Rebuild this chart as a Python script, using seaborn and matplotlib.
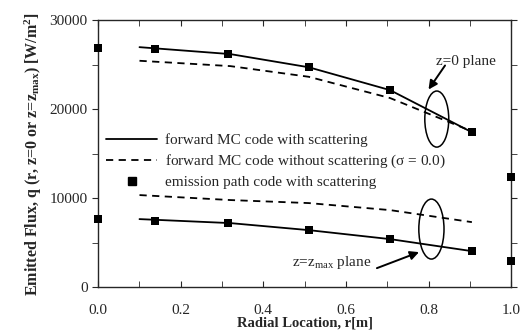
import numpy as np
import pandas as pd
import matplotlib
matplotlib.use('Agg')
import matplotlib.pyplot as plt
from matplotlib.lines import Line2D
from matplotlib.patches import Ellipse
import seaborn as sns

# --- data ---
r_line = [0.1, 0.32, 0.51, 0.707, 0.905]
top_solid = [26960, 26180, 24700, 22130, 17400]
top_dashed = [25430, 24830, 23630, 21240, 17500]
bot_solid = [7640, 7190, 6400, 5390, 4040]
bot_dashed = [10340, 9780, 9440, 8650, 7300]

r_pts = [0.0, 0.138, 0.315, 0.511, 0.707, 0.906, 1.0]
top_pts = [26900, 26750, 26180, 24700, 22130, 17400, 12360]
bot_pts = [7640, 7420, 7190, 6400, 5390, 4040, 2920]

lines = pd.concat([
    pd.DataFrame({'r': r_line, 'q': top_solid, 'case': 'with', 'plane': 'top'}),
    pd.DataFrame({'r': r_line, 'q': top_dashed, 'case': 'without', 'plane': 'top'}),
    pd.DataFrame({'r': r_line, 'q': bot_solid, 'case': 'with', 'plane': 'bot'}),
    pd.DataFrame({'r': r_line, 'q': bot_dashed, 'case': 'without', 'plane': 'bot'}),
])
points = pd.DataFrame({'r': r_pts + r_pts, 'q': top_pts + bot_pts})

sns.set_style('ticks')
plt.rcParams['font.family'] = ['Liberation Serif', 'DejaVu Serif']
plt.rcParams['mathtext.fontset'] = 'custom'
plt.rcParams['mathtext.rm'] = 'Liberation Serif'
plt.rcParams['mathtext.it'] = 'Liberation Serif'
plt.rcParams['mathtext.bf'] = 'Liberation Serif:bold'

fig = plt.figure(figsize=(5.28, 3.35), dpi=100)
ax = fig.add_axes([0.186, 0.143, 0.782, 0.797])

for (case, plane), sub in lines.groupby(['case', 'plane']):
    sns.lineplot(data=sub, x='r', y='q', ax=ax, color='black', lw=1.3,
                 linestyle='-' if case == 'with' else (0, (4, 3)), legend=False)
sns.scatterplot(data=points, x='r', y='q', ax=ax, marker='s', s=34, color='black',
                edgecolor='black', linewidth=0, clip_on=False, zorder=5, legend=False)

ax.set_xlim(0, 1.0)
ax.set_ylim(0, 30000)
ax.set_xticks([0.0, 0.2, 0.4, 0.6, 0.8, 1.0])
ax.set_xticklabels(['0.0', '0.2', '0.4', '0.6', '0.8', '1.0'])
ax.set_xticks(np.arange(0.1, 1.0, 0.2), minor=True)
ax.set_yticks([0, 10000, 20000, 30000])
ax.set_yticks([5000, 15000, 25000], minor=True)
ax.tick_params(axis='x', which='both', direction='in', top=True, length=4, labelsize=11, pad=12)
ax.tick_params(axis='y', which='both', direction='out', right=True, length=4, labelsize=11)
for s in ax.spines.values():
    s.set_linewidth(1.0)

ax.set_xlabel('Radial Location, r[m]', fontweight='bold', fontsize=10.5, labelpad=0)
ax.set_ylabel(r'Emitted Flux, q (r, z=0 or z=z$_{\mathbf{max}}$) [W/m$^\mathbf{2}$]',
              fontweight='bold', fontsize=11.5, labelpad=4)

# ellipses, labels and arrows
ax.add_patch(Ellipse((0.82, 18880), 0.058, 6300, fill=False, lw=1.1, color='black'))
ax.add_patch(Ellipse((0.807, 6520), 0.061, 6740, fill=False, lw=1.1, color='black'))
ax.text(0.818, 25400, 'z=0 plane', fontsize=11, va='center', ha='left')
ax.text(0.47, 2800, r'z=z$_{\rm max}$ plane', fontsize=11, va='center', ha='left')
arrow = dict(arrowstyle='-|>', color='black', lw=1.4, shrinkA=0, shrinkB=0, mutation_scale=13)
ax.annotate('', xy=(0.80, 22200), xytext=(0.84, 24900), arrowprops=arrow)
ax.annotate('', xy=(0.777, 3930), xytext=(0.675, 2130), arrowprops=arrow)

handles = [
    Line2D([], [], color='black', lw=1.3),
    Line2D([], [], color='black', lw=1.3, linestyle=(0, (4, 3))),
    Line2D([], [], color='black', marker='s', markersize=6, linestyle='none'),
]
labels = ['forward MC code with scattering',
          r'forward MC code without scattering ($\sigma$ = 0.0)',
          'emission path code with scattering']
ax.legend(handles, labels, loc='upper left', bbox_to_anchor=(0.02, 0.575), frameon=False,
          borderpad=0, borderaxespad=0, handlelength=3.3, handletextpad=0.55,
          labelspacing=0.35, fontsize=11)

fig.savefig('out.png', dpi=100)
